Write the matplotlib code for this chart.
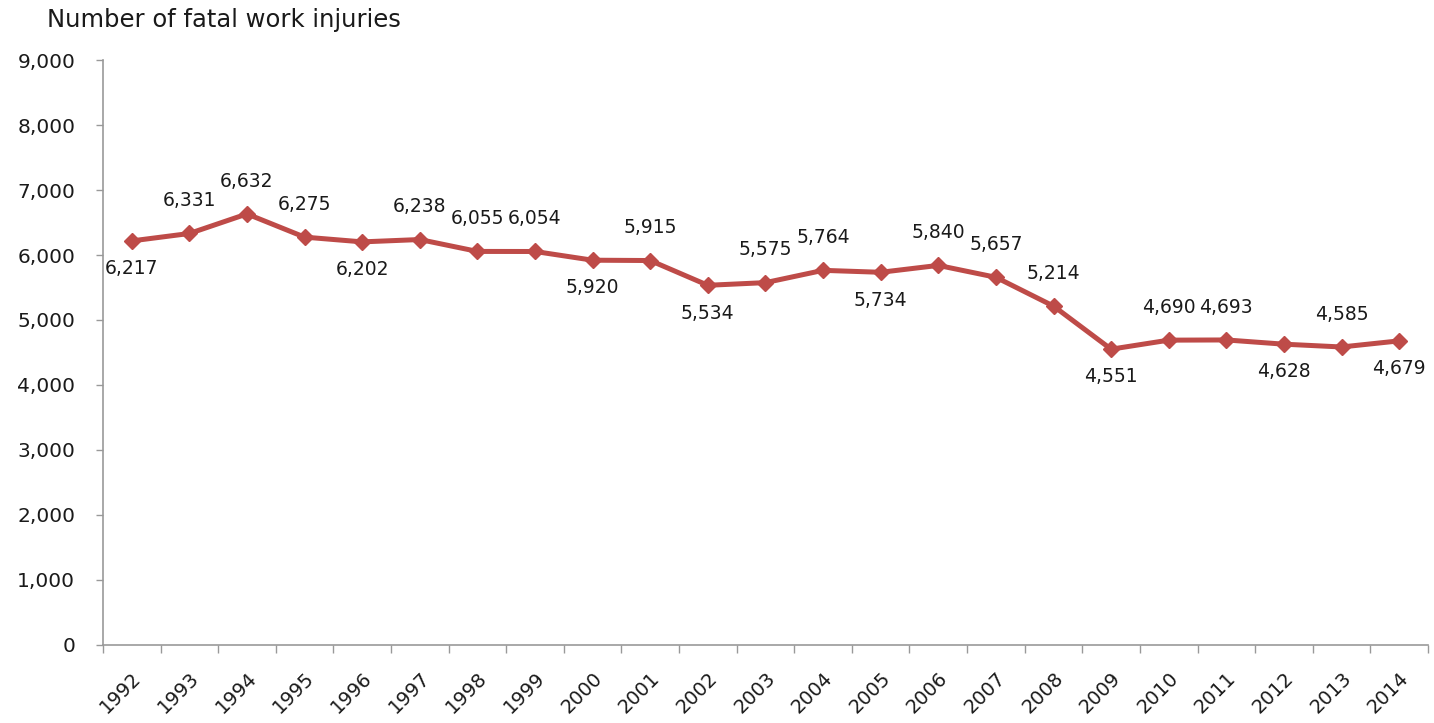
import matplotlib
matplotlib.use("Agg")
import matplotlib.pyplot as plt
from matplotlib.ticker import FuncFormatter, FixedLocator

years = [str(y) for y in range(1992, 2015)]
fatalities = [6217, 6331, 6632, 6275, 6202, 6238, 6055, 6054, 5920, 5915,
              5534, 5575, 5764, 5734, 5840, 5657, 5214, 4551, 4690, 4693,
              4628, 4585, 4679]
label_below = ["1992", "1996", "2000", "2002", "2005", "2009", "2012", "2014"]

plt.rcParams['font.family'] = ['DejaVu Sans']
fig = plt.figure(figsize=(14.34, 7.23), dpi=100)
ax = fig.add_axes([0.0718, 0.1079, 0.924, 0.8091])

xs = [i + 0.5 for i in range(len(years))]
color = '#BE4B48'
ax.plot(xs, fatalities, color=color, lw=3.6, marker='D', ms=8.5,
        markeredgecolor=color, markerfacecolor=color, zorder=3)

for x, y, yr in zip(xs, fatalities, years):
    off = -20 if yr in label_below else 23.5
    ax.annotate(f"{y:,}", (x, y), xytext=(0, off), textcoords='offset points',
                ha='center', va='center', fontsize=13.5, color='#1a1a1a')

ax.set_xlim(0, len(years))
ax.set_ylim(0, 9000)
ax.set_yticks(range(0, 9001, 1000))
ax.yaxis.set_major_formatter(FuncFormatter(lambda v, p: f"{int(v):,}"))
ax.tick_params(axis='y', labelsize=14.5, length=5, width=1, color='#999999',
               pad=15, labelcolor='#1a1a1a')

ax.xaxis.set_major_locator(FixedLocator(range(0, len(years) + 1)))
ax.set_xticklabels([''] * (len(years) + 1))
ax.xaxis.set_minor_locator(FixedLocator(xs))
ax.set_xticklabels(years, minor=True, rotation=45, ha='right',
                   rotation_mode='anchor', fontsize=14, color='#1a1a1a')
ax.tick_params(axis='x', which='major', length=6, width=1, color='#999999')
ax.tick_params(axis='x', which='minor', length=0, pad=17)

for s in ['top', 'right']:
    ax.spines[s].set_visible(False)
for s in ['left', 'bottom']:
    ax.spines[s].set_color('#999999')
    ax.spines[s].set_linewidth(1.2)

fig.text(0.033, 0.972, "Number of fatal work injuries", fontsize=17.5,
         color='#1a1a1a', ha='left', va='center')

fig.savefig("out.png", dpi=100, facecolor='white')
